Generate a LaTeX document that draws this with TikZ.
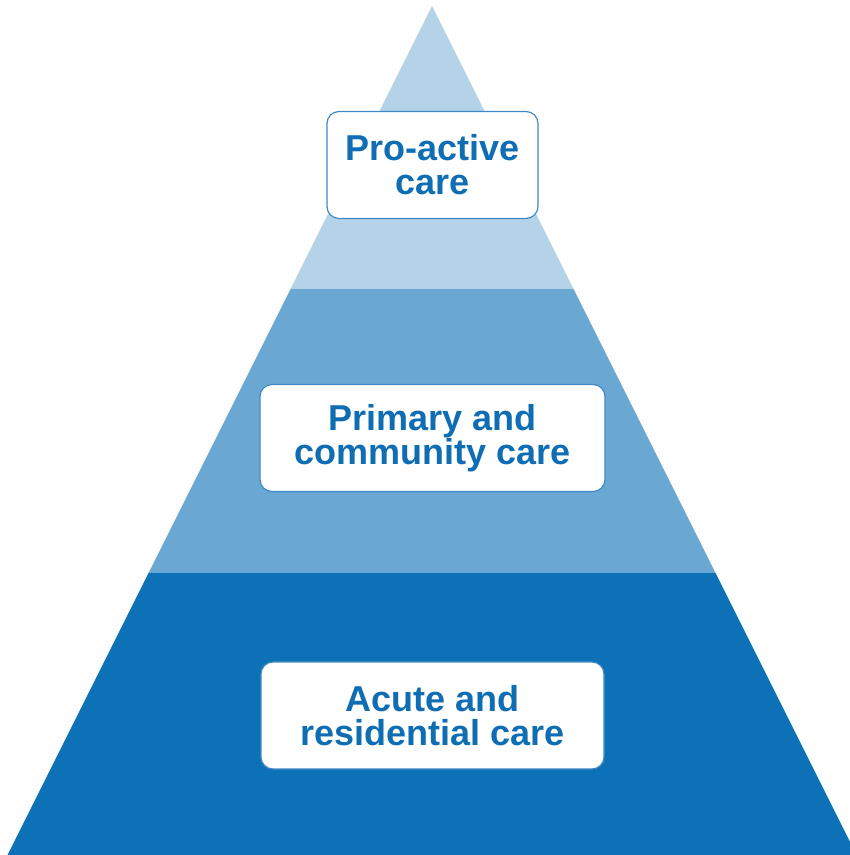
\documentclass[tikz,border=0pt]{standalone}
\usepackage{fontspec}
\setmainfont{Liberation Sans}
\usepackage{tikz}
\tikzset{>=stealth}
\usetikzlibrary{positioning}
\definecolor{tierlight}{HTML}{B4D3E8}
\definecolor{tiermid}{HTML}{6AA8D3}
\definecolor{tierdark}{HTML}{0C71B7}
\definecolor{labelblue}{HTML}{0F6DB4}
\definecolor{boxedge}{HTML}{3F8AC6}

\begin{document}
\begin{tikzpicture}[x=1pt,y=1pt,
        tierbox/.style={draw=boxedge, line width=1.2pt, fill=white, rounded corners=12pt,
            minimum height=107pt, inner sep=0pt, align=center, text=labelblue,
            font=\bfseries\fontsize{36}{34}\selectfont}]
            \useasboundingbox (0,0) rectangle (850,855);
            \clip (0,0) rectangle (850,855);
            % pyramid bands
            \fill[tierdark] (7.5,0) -- (856.5,0) -- (715.5,282) -- (148.5,282) -- cycle;
            \fill[tiermid] (148.5,282) -- (715.5,282) -- (573.5,566) -- (290.5,566) -- cycle;
            \fill[tierlight] (290.5,566) -- (573.5,566) -- (432,849) -- cycle;
            % labels
            \node[tierbox, minimum width=211pt] (proactive) at (432.5,690) {Pro-active\\care};
            \node[tierbox, minimum width=345pt] (primary) at (432.5,417) {Primary and\\community care};
            \node[tierbox, minimum width=343pt] (acute) at (432.5,139.5) {Acute and\\residential care};
        \end{tikzpicture}
\end{document}
